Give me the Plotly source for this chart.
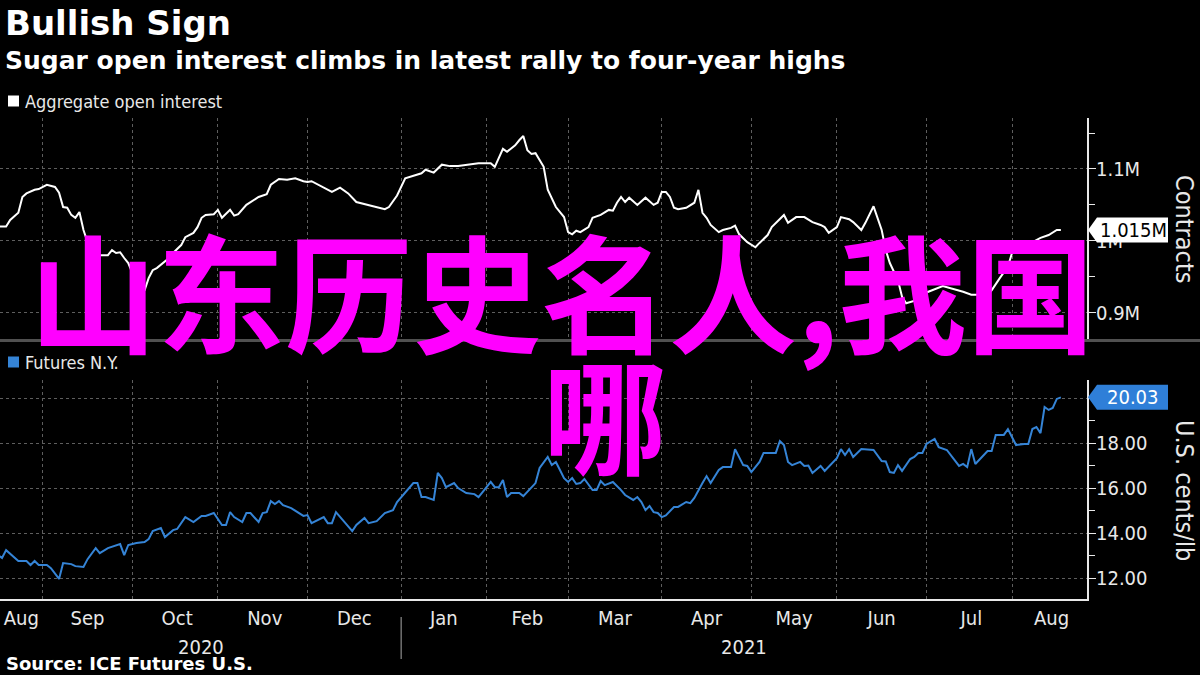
import plotly.graph_objects as go
import pandas as pd

# ---------------- data ----------------
oi_dates = [
    "2020-08-17", "2020-08-19", "2020-08-20", "2020-08-24", "2020-08-25", "2020-08-26", "2020-08-28",
    "2020-08-31", "2020-09-02", "2020-09-04", "2020-09-07", "2020-09-08", "2020-09-09", "2020-09-10",
    "2020-09-11", "2020-09-14", "2020-09-15", "2020-09-16", "2020-09-18", "2020-09-21", "2020-09-23",
    "2020-09-24", "2020-09-25", "2020-09-28", "2020-09-29", "2020-09-30", "2020-10-01", "2020-10-02",
    "2020-10-05", "2020-10-06", "2020-10-07", "2020-10-08", "2020-10-09", "2020-10-13", "2020-10-14",
    "2020-10-15", "2020-10-19", "2020-10-20", "2020-10-22", "2020-10-23", "2020-10-26", "2020-10-27",
    "2020-10-29", "2020-10-30", "2020-11-02", "2020-11-04", "2020-11-05", "2020-11-06", "2020-11-10",
    "2020-11-13", "2020-11-17", "2020-11-18", "2020-11-20", "2020-11-24", "2020-11-26", "2020-11-30",
    "2020-12-01", "2020-12-02", "2020-12-07", "2020-12-09", "2020-12-11", "2020-12-15", "2020-12-17",
    "2020-12-22", "2020-12-24", "2020-12-28", "2020-12-29", "2020-12-31", "2021-01-04", "2021-01-06",
    "2021-01-08", "2021-01-11", "2021-01-13", "2021-01-15", "2021-01-19", "2021-01-21", "2021-01-25",
    "2021-01-28", "2021-02-01", "2021-02-02", "2021-02-03", "2021-02-04", "2021-02-05", "2021-02-08",
    "2021-02-10", "2021-02-11", "2021-02-12", "2021-02-15", "2021-02-16", "2021-02-17", "2021-02-19",
    "2021-02-22", "2021-02-24", "2021-02-26", "2021-03-01", "2021-03-02", "2021-03-03", "2021-03-04",
    "2021-03-08", "2021-03-09", "2021-03-11", "2021-03-15", "2021-03-16", "2021-03-17", "2021-03-18",
    "2021-03-19", "2021-03-22", "2021-03-24", "2021-03-26", "2021-03-30", "2021-03-31", "2021-04-01",
    "2021-04-02", "2021-04-05", "2021-04-06", "2021-04-07", "2021-04-09", "2021-04-13", "2021-04-14",
    "2021-04-15", "2021-04-16", "2021-04-19", "2021-04-21", "2021-04-22", "2021-04-26", "2021-04-27",
    "2021-04-28", "2021-04-30", "2021-05-04", "2021-05-05", "2021-05-07", "2021-05-10", "2021-05-13",
    "2021-05-14", "2021-05-18", "2021-05-20", "2021-05-24", "2021-05-26", "2021-05-27", "2021-05-28",
    "2021-06-01", "2021-06-02", "2021-06-04", "2021-06-07", "2021-06-09", "2021-06-10", "2021-06-14",
    "2021-06-16", "2021-06-17", "2021-06-18", "2021-06-22", "2021-06-23", "2021-06-24", "2021-06-29",
    "2021-07-01", "2021-07-07", "2021-07-09", "2021-07-13", "2021-07-14", "2021-07-16", "2021-07-20",
    "2021-07-21", "2021-07-23", "2021-07-27", "2021-07-29", "2021-07-30", "2021-08-02", "2021-08-05",
    "2021-08-06", "2021-08-10", "2021-08-12", "2021-08-16", "2021-08-17",
]
oi_millions = [
    1.020, 1.020, 1.029, 1.039, 1.061, 1.066, 1.071,
    1.072, 1.078, 1.075, 1.067, 1.047, 1.046, 1.036,
    1.032, 1.040, 1.015, 0.998, 0.982, 0.980, 0.980,
    0.987, 0.983, 0.984, 0.976, 0.969, 0.955, 0.940,
    0.928, 0.931, 0.948, 0.959, 0.962, 0.972, 0.976,
    0.983, 0.994, 1.005, 1.011, 1.019, 1.032, 1.036,
    1.037, 1.043, 1.032, 1.043, 1.035, 1.037, 1.050,
    1.061, 1.065, 1.078, 1.086, 1.085, 1.087, 1.083,
    1.082, 1.083, 1.074, 1.068, 1.074, 1.066, 1.054,
    1.050, 1.047, 1.044, 1.047, 1.063, 1.087, 1.090,
    1.094, 1.099, 1.095, 1.106, 1.104, 1.104, 1.106,
    1.108, 1.108, 1.108, 1.103, 1.115, 1.128, 1.124,
    1.133, 1.140, 1.146, 1.126, 1.121, 1.122, 1.103,
    1.071, 1.047, 1.033, 1.012, 1.009, 1.014, 1.012,
    1.019, 1.032, 1.036, 1.043, 1.042, 1.053, 1.061,
    1.054, 1.060, 1.050, 1.060, 1.050, 1.053, 1.068,
    1.068, 1.061, 1.046, 1.044, 1.046, 1.053, 1.071,
    1.039, 1.032, 1.022, 1.012, 1.015, 1.018, 1.021,
    1.009, 0.998, 0.991, 0.997, 1.008, 1.019, 1.036,
    1.025, 1.033, 1.033, 1.026, 1.022, 1.019, 1.011,
    1.019, 1.033, 1.030, 1.026, 1.015, 1.025, 1.048,
    1.015, 0.987, 0.969, 0.945, 0.922, 0.913, 0.918,
    0.928, 0.937, 0.934, 0.931, 0.929, 0.925, 0.925,
    0.918, 0.931, 0.948, 0.964, 0.983, 0.984, 0.991,
    0.998, 1.004, 1.008, 1.015, 1.015,
]

fut_dates = [
    "2020-08-17", "2020-08-18", "2020-08-19", "2020-08-21", "2020-08-24", "2020-08-26", "2020-08-27",
    "2020-08-28", "2020-08-31", "2020-09-02", "2020-09-03", "2020-09-07", "2020-09-08", "2020-09-10",
    "2020-09-11", "2020-09-15", "2020-09-16", "2020-09-18", "2020-09-21", "2020-09-23", "2020-09-24",
    "2020-09-28", "2020-09-29", "2020-09-30", "2020-10-02", "2020-10-06", "2020-10-07", "2020-10-08",
    "2020-10-12", "2020-10-13", "2020-10-15", "2020-10-16", "2020-10-20", "2020-10-22", "2020-10-26",
    "2020-10-27", "2020-10-29", "2020-11-02", "2020-11-03", "2020-11-04", "2020-11-05", "2020-11-09",
    "2020-11-10", "2020-11-11", "2020-11-13", "2020-11-16", "2020-11-17", "2020-11-18", "2020-11-19",
    "2020-11-20", "2020-11-23", "2020-11-25", "2020-11-30", "2020-12-01", "2020-12-02", "2020-12-07",
    "2020-12-08", "2020-12-09", "2020-12-10", "2020-12-14", "2020-12-16", "2020-12-17", "2020-12-21",
    "2020-12-22", "2020-12-24", "2020-12-28", "2020-12-30", "2020-12-31", "2021-01-04", "2021-01-06",
    "2021-01-07", "2021-01-08", "2021-01-11", "2021-01-13", "2021-01-14", "2021-01-15", "2021-01-18",
    "2021-01-20", "2021-01-21", "2021-01-25", "2021-01-27", "2021-01-28", "2021-01-29", "2021-02-02",
    "2021-02-03", "2021-02-04", "2021-02-05", "2021-02-08", "2021-02-09", "2021-02-11", "2021-02-12",
    "2021-02-16", "2021-02-17", "2021-02-18", "2021-02-22", "2021-02-23", "2021-02-24", "2021-02-25",
    "2021-02-26", "2021-03-01", "2021-03-02", "2021-03-03", "2021-03-04", "2021-03-05", "2021-03-09",
    "2021-03-10", "2021-03-11", "2021-03-12", "2021-03-16", "2021-03-18", "2021-03-19", "2021-03-23",
    "2021-03-24", "2021-03-25", "2021-03-26", "2021-03-29", "2021-03-30", "2021-03-31", "2021-04-01",
    "2021-04-02", "2021-04-06", "2021-04-07", "2021-04-09", "2021-04-12", "2021-04-13", "2021-04-15",
    "2021-04-16", "2021-04-19", "2021-04-21", "2021-04-22", "2021-04-26", "2021-04-27", "2021-04-29",
    "2021-04-30", "2021-05-03", "2021-05-05", "2021-05-06", "2021-05-10", "2021-05-11", "2021-05-12",
    "2021-05-13", "2021-05-14", "2021-05-17", "2021-05-19", "2021-05-20", "2021-05-21", "2021-05-24",
    "2021-05-26", "2021-05-27", "2021-06-01", "2021-06-02", "2021-06-03", "2021-06-04", "2021-06-07",
    "2021-06-09", "2021-06-14", "2021-06-16", "2021-06-17", "2021-06-18", "2021-06-21", "2021-06-22",
    "2021-06-23", "2021-06-25", "2021-06-28", "2021-06-29", "2021-06-30", "2021-07-01", "2021-07-05",
    "2021-07-06", "2021-07-08", "2021-07-13", "2021-07-14", "2021-07-15", "2021-07-16", "2021-07-19",
    "2021-07-22", "2021-07-23", "2021-07-26", "2021-07-28", "2021-07-29", "2021-08-02", "2021-08-04",
    "2021-08-05", "2021-08-06", "2021-08-09", "2021-08-10", "2021-08-11", "2021-08-12", "2021-08-13",
    "2021-08-16", "2021-08-17",
]
fut_cents = [
    13.02, 12.89, 13.24, 12.93, 12.76, 12.76, 12.58,
    12.76, 12.58, 12.58, 12.44, 11.96, 12.67, 12.62,
    12.53, 12.49, 12.84, 13.33, 13.11, 13.33, 13.38,
    13.51, 13.02, 13.47, 13.56, 13.60, 13.73, 14.09,
    14.22, 13.82, 14.13, 14.18, 14.71, 14.49, 14.76,
    14.76, 14.89, 14.36, 14.36, 14.93, 14.71, 14.49,
    14.89, 14.89, 14.49, 14.89, 14.93, 15.42, 15.29,
    15.42, 15.24, 15.11, 14.76, 14.80, 14.44, 14.71,
    14.44, 14.44, 14.93, 14.49, 14.09, 14.36, 14.67,
    14.44, 14.53, 14.89, 15.02, 15.38, 15.82, 16.22,
    16.22, 15.60, 15.60, 15.47, 16.67, 16.44, 16.04,
    16.22, 16.00, 15.78, 15.73, 15.60, 15.82, 16.27,
    16.04, 16.04, 16.36, 15.60, 15.78, 15.78, 15.64,
    16.00, 16.22, 16.89, 17.38, 17.02, 17.16, 16.80,
    16.44, 16.27, 16.44, 16.18, 16.22, 16.40, 15.91,
    15.91, 16.31, 16.13, 16.27, 15.91, 15.69, 15.47,
    15.60, 15.38, 15.02, 15.20, 14.93, 14.89, 14.71,
    14.78, 15.16, 15.16, 15.38, 15.33, 15.56, 16.22,
    16.53, 16.22, 16.80, 16.93, 16.93, 17.73, 17.02,
    16.98, 16.71, 17.16, 17.56, 17.56, 17.56, 18.09,
    17.91, 17.16, 17.02, 17.16, 16.98, 17.00, 16.67,
    16.98, 16.76, 17.33, 17.73, 17.47, 17.73, 17.38,
    17.73, 17.69, 17.20, 17.18, 16.71, 16.67, 17.02,
    16.76, 17.29, 17.38, 17.56, 17.56, 17.96, 18.18,
    17.82, 17.69, 16.98, 17.07, 16.93, 17.73, 17.07,
    17.64, 17.64, 18.36, 18.36, 18.62, 17.91, 17.96,
    17.96, 18.62, 18.71, 18.44, 19.60, 19.47, 19.56,
    19.96, 20.03,
]

oi_tickvals = [0.9, 1.0, 1.1]
oi_ticktext = ["0.9M", "1M", "1.1M"]
oi_last_label = "1.015M"
fut_last_label = "20.03"
x_range = ["2020-08-17 12:00", "2021-08-25 10:00"]
year_labels = ["2020", "2021"]
year_break = "2021-01-01"

title = "Bullish Sign"
subtitle = "Sugar open interest climbs in latest rally to four-year highs"
source = "Source: ICE Futures U.S."
oi_name = "Aggregate open interest"
fut_name = "Futures N.Y."
watermark_1 = "山东历史名人,我国"
watermark_2 = "哪"

# ---------------- layout helpers ----------------
W, H = 1200, 675
PR = 1087  # right edge of plot area (px)


def px(x):
    return x / PR


def py(y):
    return 1 - y / H


def trading_mid(a, b):
    """Midpoint of [a, b] measured in weekday time (matches the weekend rangebreaks)."""
    hrs = pd.date_range(pd.Timestamp(a), pd.Timestamp(b), freq="h")
    hrs = hrs[hrs.dayofweek < 5]
    return hrs[len(hrs) // 2]


BG = "#000000"
FG = "#e8e8e8"
GRID = "#5e5e5e"
BLUE = "#3584d6"
BADGE_BLUE = "#2f7fd8"
TICKFONT = dict(family="DejaVu Sans Condensed, DejaVu Sans", size=20, color=FG)

# month labels centred on the visible part of each month
r0, r1 = pd.Timestamp(x_range[0]), pd.Timestamp(x_range[1])
month_starts = pd.date_range(r0.to_period("M").to_timestamp(), r1, freq="MS")
month_vals, month_text = [], []
for ms in month_starts:
    me = ms + pd.offsets.MonthBegin(1)
    month_vals.append(trading_mid(max(ms, r0), min(me, r1)))
    month_text.append(ms.strftime("%b"))

fig = go.Figure()
fig.add_trace(go.Scatter(x=oi_dates, y=oi_millions, mode="lines", xaxis="x", yaxis="y",
                         line=dict(color="#ffffff", width=2), showlegend=False, hoverinfo="skip"))
fig.add_trace(go.Scatter(x=fut_dates, y=fut_cents, mode="lines", xaxis="x2", yaxis="y2",
                         line=dict(color=BLUE, width=2), showlegend=False, hoverinfo="skip"))

breaks = [dict(bounds=["sat", "mon"])]
minor_grid = dict(dtick="M1", tick0="2020-08-01", showgrid=True, gridcolor=GRID, griddash="dot",
                  gridwidth=1, ticks="")
xcommon = dict(type="date", range=x_range, rangebreaks=breaks, showgrid=False, zeroline=False,
               ticks="", domain=[0, 1], tickvals=month_vals, ticktext=month_text, minor=minor_grid)

fig.update_layout(
    width=W, height=H, paper_bgcolor=BG, plot_bgcolor=BG,
    margin=dict(l=0, r=W - PR, t=0, b=0),
    showlegend=False,
    xaxis=dict(**xcommon, anchor="y", showticklabels=False, showline=False),
    xaxis2=dict(**xcommon, anchor="y2", matches="x", showticklabels=True,
                showline=True, linecolor=FG, linewidth=2, tickfont=TICKFONT),
    yaxis=dict(domain=[py(339), py(118)], range=[0.8632, 1.171], side="right", anchor="x",
               tickvals=oi_tickvals, ticktext=oi_ticktext, tickfont=TICKFONT, ticklabelstandoff=-4,
               showgrid=True, gridcolor=GRID, griddash="dot", zeroline=False,
               showline=True, linecolor=FG, linewidth=2, ticks="outside", ticklen=7, tickcolor=FG,
               minor=dict(dtick=0.05, tick0=0.85, ticks="outside", ticklen=6, tickcolor=FG, showgrid=False)),
    yaxis2=dict(domain=[py(599), py(380)], range=[11.07, 20.8], side="right", anchor="x2",
                dtick=2, tick0=0, tickformat=".2f", tickfont=TICKFONT, ticklabelstandoff=-4,
                showgrid=True, gridcolor=GRID, griddash="dot", zeroline=False,
                showline=True, linecolor=FG, linewidth=2, ticks="outside", ticklen=7, tickcolor=FG,
                minor=dict(dtick=1, tick0=0, ticks="outside", ticklen=6, tickcolor=FG, showgrid=False)),
)

shapes = []
annotations = []

# panel separator
shapes.append(dict(type="line", xref="paper", yref="paper", x0=0, x1=W / PR, y0=py(340.5), y1=py(340.5),
                   line=dict(color="#505050", width=3)))
# year separator
shapes.append(dict(type="line", xref="x2", yref="paper", x0=year_break, x1=year_break,
                   y0=py(659), y1=py(617), line=dict(color="#aaaaaa", width=1)))

# year labels centred on their visible spans
for lab, mid in zip(year_labels, [trading_mid(r0, year_break), trading_mid(year_break, r1)]):
    annotations.append(dict(text=lab, x=mid, xref="x2", y=py(647), yref="paper", showarrow=False,
                            xanchor="center", yanchor="middle", font=TICKFONT))

# titles
annotations.append(dict(text=title, x=px(3), y=py(23), xref="paper", yref="paper", showarrow=False,
                        xanchor="left", yanchor="middle",
                        font=dict(family="DejaVu Sans", size=34, color="#ffffff", weight="bold")))
annotations.append(dict(text=subtitle, x=px(3), y=py(60), xref="paper", yref="paper", showarrow=False,
                        xanchor="left", yanchor="middle",
                        font=dict(family="DejaVu Sans", size=25, color="#ffffff", weight="bold")))
annotations.append(dict(text=source, x=px(4), y=py(663), xref="paper", yref="paper", showarrow=False,
                        xanchor="left", yanchor="middle",
                        font=dict(family="DejaVu Sans", size=18, color="#ffffff", weight="bold")))

# series labels (legend-like)
for name, color, ycen in [(oi_name, "#ffffff", 101), (fut_name, BLUE, 362)]:
    shapes.append(dict(type="rect", xref="paper", yref="paper", x0=px(8), x1=px(19),
                       y0=py(ycen + 5.5), y1=py(ycen - 5.5), fillcolor=color, line=dict(width=0)))
    annotations.append(dict(text=name, x=px(23), y=py(ycen), xref="paper", yref="paper", showarrow=False,
                            xanchor="left", yanchor="middle",
                            font=dict(family="DejaVu Sans Condensed, DejaVu Sans", size=18, color=FG)))

# axis titles
for t, ycen in [("Contracts", 229), ("U.S. cents/lb", 490)]:
    annotations.append(dict(text=t, x=px(1185), y=py(ycen), xref="paper", yref="paper", showarrow=False,
                            textangle=90, xanchor="center", yanchor="middle",
                            font=dict(family="DejaVu Sans Condensed, DejaVu Sans", size=25, color=FG)))

# last value badges
for yref, val, lab, fill, tcol in [("y", oi_millions[-1], oi_last_label, "#ffffff", "#000000"),
                                   ("y2", fut_cents[-1], fut_last_label, BADGE_BLUE, "#ffffff")]:
    shapes.append(dict(type="path", xref="paper", yref=yref, xsizemode="pixel", ysizemode="pixel",
                       xanchor=1, yanchor=val, path="M 1,0 L 10,12.5 L 81,12.5 L 81,-12.5 L 10,-12.5 Z",
                       fillcolor=fill, line=dict(width=0)))
    annotations.append(dict(text=lab, x=1, y=val, xref="paper", yref=yref, showarrow=False,
                            xanchor="center", yanchor="middle", xshift=46,
                            font=dict(family="DejaVu Sans Condensed, DejaVu Sans", size=20, color=tcol)))

# magenta overlay text
annotations.append(dict(text=watermark_1, x=px(562), y=py(288), xref="paper", yref="paper", showarrow=False,
                        xanchor="center", yanchor="middle",
                        font=dict(family="Noto Sans CJK SC", size=128, color="#ff00ff", weight="bold")))
annotations.append(dict(text=watermark_2, x=px(605), y=py(411), xref="paper", yref="paper", showarrow=False,
                        xanchor="center", yanchor="middle",
                        font=dict(family="Noto Sans CJK SC", size=124, color="#ff00ff", weight="bold")))

fig.update_layout(shapes=shapes, annotations=annotations)
fig.write_html("out.html", config={"displayModeBar": False},
               post_script="document.body.style.margin='0px';")
